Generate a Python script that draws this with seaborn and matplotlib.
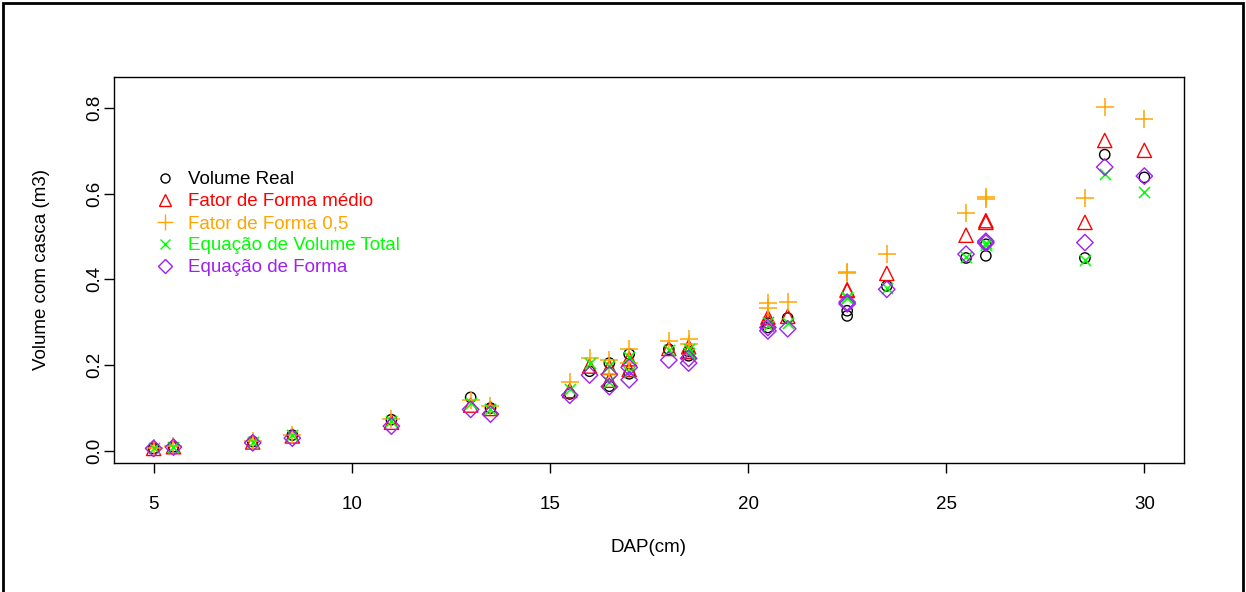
import matplotlib
matplotlib.use("Agg")
import matplotlib.pyplot as plt
from matplotlib.lines import Line2D
from matplotlib.patches import Rectangle
import seaborn as sns
import pandas as pd

# Diameter at breast height (cm) of each sampled tree
dap = [5.0, 5.5, 7.5, 8.5, 11.0, 13.0, 13.5, 15.5, 16.0, 16.5, 16.5, 17.0, 17.0,
       18.0, 18.5, 18.5, 20.5, 20.5, 21.0, 22.5, 22.5, 23.5, 25.5, 26.0, 26.0,
       28.5, 29.0, 30.0]

# Volume with bark (m3): measured and estimated by each method
volume_real = [0.006, 0.010, 0.022, 0.037, 0.073, 0.125, 0.100, 0.133, 0.186, 0.205, 0.151,
               0.226, 0.180, 0.237, 0.232, 0.222, 0.298, 0.288, 0.310, 0.327, 0.315,
               0.385, 0.450, 0.482, 0.455, 0.450, 0.691, 0.638]
fator_medio = [0.006, 0.010, 0.021, 0.035, 0.067, 0.107, 0.099, 0.141, 0.198, 0.195, 0.165,
               0.215, 0.190, 0.239, 0.243, 0.232, 0.312, 0.304, 0.314, 0.376, 0.374,
               0.414, 0.503, 0.537, 0.533, 0.533, 0.724, 0.701]
fator_05 = [0.007, 0.011, 0.023, 0.038, 0.074, 0.118, 0.106, 0.160, 0.217, 0.212, 0.180,
            0.238, 0.205, 0.257, 0.262, 0.250, 0.345, 0.333, 0.347, 0.418, 0.416,
            0.459, 0.555, 0.592, 0.588, 0.591, 0.802, 0.774]
eq_volume_total = [0.007, 0.010, 0.022, 0.038, 0.071, 0.113, 0.099, 0.145, 0.204, 0.198, 0.162,
                   0.218, 0.185, 0.235, 0.238, 0.228, 0.300, 0.292, 0.298, 0.360, 0.357,
                   0.380, 0.452, 0.484, 0.480, 0.446, 0.646, 0.604]
eq_forma = [0.006, 0.009, 0.019, 0.030, 0.058, 0.097, 0.086, 0.130, 0.177, 0.178, 0.150,
            0.195, 0.166, 0.212, 0.216, 0.205, 0.288, 0.280, 0.285, 0.347, 0.343,
            0.377, 0.459, 0.489, 0.485, 0.486, 0.662, 0.641]

series_labels = ["Volume Real", "Fator de Forma médio", "Fator de Forma 0,5",
                 "Equação de Volume Total", "Equação de Forma"]
series_values = [volume_real, fator_medio, fator_05, eq_volume_total, eq_forma]
x_ticks = [5, 10, 15, 20, 25, 30]
y_ticks = [0.0, 0.2, 0.4, 0.6, 0.8]

colors = ["black", "#FF0000", "#FFA500", "#00FF00", "#A020F0"]
markers = ["o", "^", "+", "x", "D"]
sizes = [55, 105, 150, 65, 70]
open_marker = [True, True, False, False, True]

FS = 13.5

sns.set_theme(style="white")
plt.rcParams["font.family"] = ["Liberation Sans", "DejaVu Sans"]

W, H = 1246, 592
fig = plt.figure(figsize=(W / 100, H / 100), dpi=100)
ax = fig.add_axes([114 / W, 1 - 463 / H, (1184 - 114) / W, (463 - 77) / H])

df = pd.DataFrame({"dap": dap})
for lab, vals, c, m, s, op in zip(series_labels, series_values, colors, markers, sizes, open_marker):
    df[lab] = vals
    if op:
        sns.scatterplot(data=df, x="dap", y=lab, ax=ax, marker=m, s=s,
                        facecolor="none", edgecolor=c, linewidth=1.0, zorder=3)
    else:
        sns.scatterplot(data=df, x="dap", y=lab, ax=ax, marker=m, s=s,
                        color=c, linewidth=1.1, zorder=3)

ax.set_xlim(4, 31)
ax.set_ylim(-0.028, 0.872)
ax.set_xticks(x_ticks)
ax.set_xticklabels([str(t) for t in x_ticks])
ax.set_yticks(y_ticks)
ax.set_yticklabels([f"{t:.1f}" for t in y_ticks], rotation=90, va="center")
ax.tick_params(axis="both", direction="out", length=7, width=1, color="black",
               labelsize=FS, labelcolor="black", bottom=True, left=True)
ax.tick_params(axis="x", pad=16.5)
ax.tick_params(axis="y", pad=1)
for sp in ax.spines.values():
    sp.set_color("black")
    sp.set_linewidth(1)
ax.set_xlabel("DAP(cm)", fontsize=FS, color="black", labelpad=19)
ax.set_ylabel("Volume com casca (m3)", fontsize=FS, color="black", labelpad=25.5)

handles = []
for c, m, op in zip(colors, markers, open_marker):
    ms = {"o": 6.5, "^": 9, "+": 11, "x": 7, "D": 7}[m]
    handles.append(Line2D([], [], linestyle="none", marker=m, markersize=ms,
                          markerfacecolor="none", markeredgecolor=c, markeredgewidth=1.0,
                          color=c))
leg = fig.legend(handles, series_labels, loc="upper left",
                 bbox_to_anchor=(155.5 / W, 1 - 171 / H), frameon=False,
                 fontsize=FS, handletextpad=0.73, labelspacing=0.26,
                 handlelength=1.0, borderaxespad=0, borderpad=0)
for txt, c in zip(leg.get_texts(), colors):
    txt.set_color(c)

# Thin black frame around the whole figure (open at the bottom edge)
fig.add_artist(Rectangle((3 / W, -0.05), (1243 - 3) / W, 1.05 - 3 / H,
                         transform=fig.transFigure, fill=False,
                         edgecolor="black", linewidth=2, clip_on=False))

fig.savefig("out.png", dpi=100, facecolor="white")
